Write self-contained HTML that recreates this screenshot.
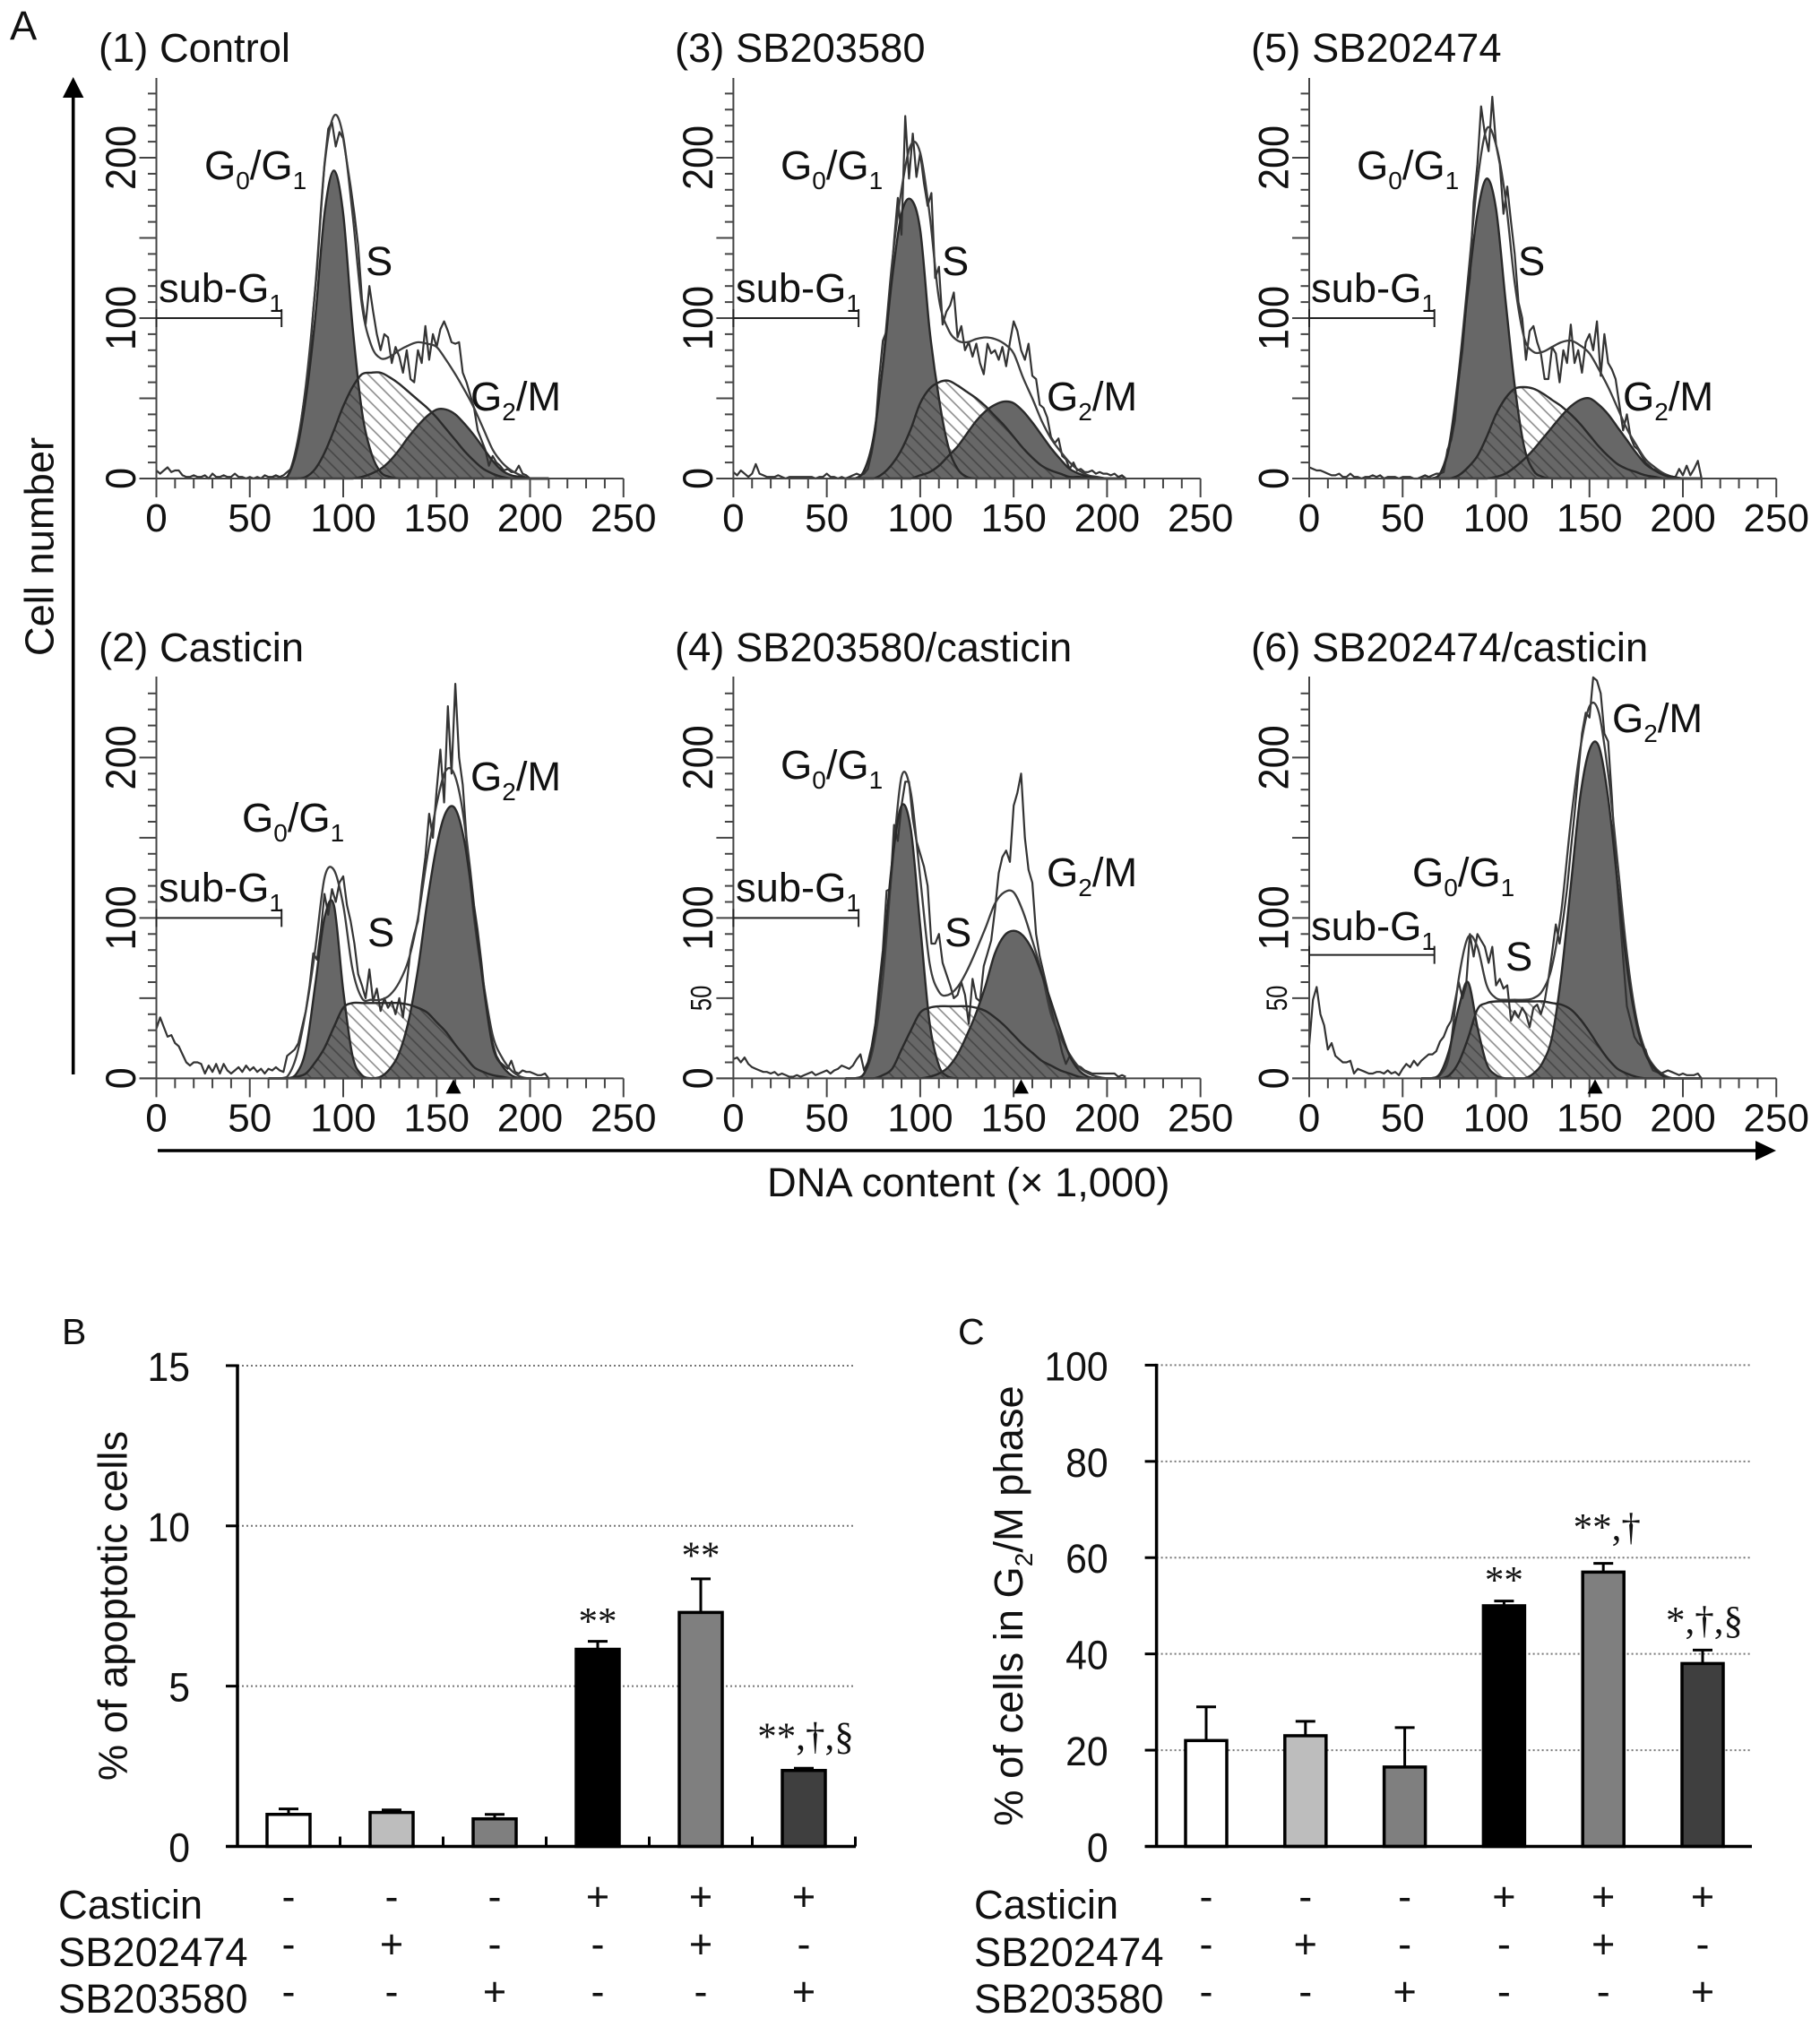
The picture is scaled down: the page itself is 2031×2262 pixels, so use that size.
<!DOCTYPE html>
<html lang="en">
<head>
<meta charset="utf-8">
<title>Cell cycle histograms and apoptosis bar charts</title>
<style>
html,body{margin:0;padding:0;background:#fff;}
svg{display:block;}
text{font-family:"Liberation Sans",sans-serif;fill:#111;}
.lbl{font-size:45.3px;}
.sig{font-family:"Liberation Serif",serif;font-size:43px;text-anchor:middle;}
</style>
</head>
<body>
<svg id="figure" xmlns="http://www.w3.org/2000/svg" width="2031" height="2262" viewBox="0 0 2031 2262">
<defs>
<pattern id="hatch" patternUnits="userSpaceOnUse" width="10" height="10" patternTransform="rotate(45)">
<line x1="0" y1="5" x2="10" y2="5" stroke="#2a2a2a" stroke-opacity="0.55" stroke-width="1.6"/>
</pattern>
</defs>
<rect x="0" y="0" width="2031" height="2262" fill="#fff"/>

<text class="lbl" x="11" y="44">A</text>
<text x="69" y="1500" font-size="41">B</text>
<text x="1069" y="1500" font-size="41">C</text>

<g id="histograms"></g>

<g>
<text class="lbl" x="110" y="69">(1) Control</text>
<text class="lbl" x="753" y="69">(3) SB203580</text>
<text class="lbl" x="1396" y="69">(5) SB202474</text>
<text class="lbl" x="110" y="738">(2) Casticin</text>
<text class="lbl" x="753" y="738">(4) SB203580/casticin</text>
<text class="lbl" x="1396" y="738">(6) SB202474/casticin</text>
</g>

<g>
<text class="lbl" x="228" y="200">G<tspan dy="11" font-size="28">0</tspan><tspan dy="-11">/G</tspan><tspan dy="11" font-size="28">1</tspan></text>
<text class="lbl" x="408" y="307">S</text>
<text class="lbl" x="177" y="337">sub-G<tspan dy="11" font-size="28">1</tspan></text>
<text class="lbl" x="525" y="458">G<tspan dy="11" font-size="28">2</tspan><tspan dy="-11">/M</tspan></text>

<text class="lbl" x="871" y="200">G<tspan dy="11" font-size="28">0</tspan><tspan dy="-11">/G</tspan><tspan dy="11" font-size="28">1</tspan></text>
<text class="lbl" x="1051" y="307">S</text>
<text class="lbl" x="821" y="337">sub-G<tspan dy="11" font-size="28">1</tspan></text>
<text class="lbl" x="1168" y="458">G<tspan dy="11" font-size="28">2</tspan><tspan dy="-11">/M</tspan></text>

<text class="lbl" x="1514" y="200">G<tspan dy="11" font-size="28">0</tspan><tspan dy="-11">/G</tspan><tspan dy="11" font-size="28">1</tspan></text>
<text class="lbl" x="1694" y="307">S</text>
<text class="lbl" x="1463" y="337">sub-G<tspan dy="11" font-size="28">1</tspan></text>
<text class="lbl" x="1811" y="458">G<tspan dy="11" font-size="28">2</tspan><tspan dy="-11">/M</tspan></text>

<text class="lbl" x="270" y="928">G<tspan dy="11" font-size="28">0</tspan><tspan dy="-11">/G</tspan><tspan dy="11" font-size="28">1</tspan></text>
<text class="lbl" x="410" y="1056">S</text>
<text class="lbl" x="177" y="1006">sub-G<tspan dy="11" font-size="28">1</tspan></text>
<text class="lbl" x="525" y="882">G<tspan dy="11" font-size="28">2</tspan><tspan dy="-11">/M</tspan></text>

<text class="lbl" x="871" y="869">G<tspan dy="11" font-size="28">0</tspan><tspan dy="-11">/G</tspan><tspan dy="11" font-size="28">1</tspan></text>
<text class="lbl" x="1054" y="1056">S</text>
<text class="lbl" x="821" y="1006">sub-G<tspan dy="11" font-size="28">1</tspan></text>
<text class="lbl" x="1168" y="989">G<tspan dy="11" font-size="28">2</tspan><tspan dy="-11">/M</tspan></text>

<text class="lbl" x="1576" y="989">G<tspan dy="11" font-size="28">0</tspan><tspan dy="-11">/G</tspan><tspan dy="11" font-size="28">1</tspan></text>
<text class="lbl" x="1680" y="1083">S</text>
<text class="lbl" x="1463" y="1049">sub-G<tspan dy="11" font-size="28">1</tspan></text>
<text class="lbl" x="1799" y="817">G<tspan dy="11" font-size="28">2</tspan><tspan dy="-11">/M</tspan></text>
</g>

<g>
<line x1="81.7" y1="105" x2="81.7" y2="1199" stroke="#000" stroke-width="3.6"/>
<polygon points="81.7,86 70,109 93.4,109" fill="#000"/>
</g>
<text class="lbl" transform="translate(59.7 610) rotate(-90)" text-anchor="middle">Cell number</text>
<g>
<line x1="176" y1="1284" x2="1962" y2="1284" stroke="#000" stroke-width="3.6"/>
<polygon points="1982,1284 1959,1273 1959,1295" fill="#000"/>
</g>
<text class="lbl" x="856" y="1335">DNA content (× 1,000)</text>

<g id="chart-b"></g>
<text class="lbl" transform="translate(141.6 1792) rotate(-90)" text-anchor="middle">% of apoptotic cells</text>

<g id="chart-c"></g>
<text class="lbl" transform="translate(1141 1792) rotate(-90)" text-anchor="middle">% of cells in G<tspan dy="11" font-size="28">2</tspan><tspan dy="-11">/M phase</tspan></text>

<g>
<text class="lbl" x="65" y="2141">Casticin</text>
<text class="lbl" x="65" y="2194">SB202474</text>
<text class="lbl" x="65" y="2246">SB203580</text>
<text class="lbl" x="1087" y="2141">Casticin</text>
<text class="lbl" x="1087" y="2194">SB202474</text>
<text class="lbl" x="1087" y="2246">SB203580</text>
</g>
</svg>

<script>
// ---------- Histogram data ----------
const xTickValues = [0,10,20,30,40,50,60,70,80,90,100,110,120,130,140,150,160,170,180,190,200,210,220,230,240,250];
const xTickLabels = [0,50,100,150,200,250];
const yTickValues = [0,10,20,30,40,50,60,70,80,90,100,110,120,130,140,150,160,170,180,190,200,210,220,230,240];
const yTickLabels = [0,100,200];
const yTickSmallLabels = [50];

// raw histogram bins (DNA content, thousands)
const rawBins = [0,2,4,6,8,10,12,14,16,18,20,22,24,26,28,30,32,34,36,38,40,42,44,46,48,50,52,54,56,58,60,62,64,66,68,70,72,74,76,78,80,82,84,86,88,90,92,94,96,98,100,102,104,106,108,110,112,114,116,118,120,122,124,126,128,130,132,134,136,138,140,142,144,146,148,150,152,154,156,158,160,162,164,166,168,170,172,174,176,178,180,182,184,186,188,190,192,194,196,198,200,202,204,206,208,210];
// model-curve bins; trailing values omitted are zero
const fitBins = [60,65,70,75,80,85,90,95,100,105,110,115,120,125,130,135,140,145,150,155,160,165,170,175,180,185,190,195,200,205,210];

const rawP1 = [5,3,5,7,4,5,5,2,1,1,2,1,1,2,0,3,1,1,2,1,1,3,1,1,0,1,0,1,0,2,1,1,2,1,2,4,6,12,22,40,56,74,105,130,165,196,218,222,207,216,212,197,182,165,145,112,96,120,104,90,80,90,88,72,82,76,66,80,62,60,80,72,95,74,90,82,93,98,92,85,84,85,66,60,52,44,30,24,18,8,14,10,8,5,6,4,4,8,3,2,0,0,0,0,0,0];
const fitP1 = [0,0,1,20,58,118,195,226,213,165,108,83,75,76,80,83,85,84,82,74,65,55,44,31,18,10,5,2];
const g1P1 = [0,0,1,17,50,100,165,192,165,95,42,16,4,1];
const sP1 = [0,0,0,0,1,6,16,30,45,57,65,66,66,63,59,54,49,44,38,31,24,17,11,6,3,1];
const g2P1 = [0,0,0,0,0,0,0,0,0,0,1,3,6,11,18,26,33,39,43,43,40,34,27,19,11,5,2,1];

const rawP2 = [31,38,32,26,27,22,20,15,10,8,10,10,9,3,8,4,9,3,9,5,3,5,7,4,8,5,7,4,6,3,6,5,7,5,4,14,16,18,22,32,42,58,78,74,92,115,102,118,110,122,126,108,98,84,65,58,50,68,48,56,42,50,44,48,40,50,38,59,80,90,98,120,138,165,150,180,205,172,232,190,246,200,183,150,130,108,92,72,50,36,22,14,10,8,6,11,4,3,5,4,4,3,2,2,3,0];
const fitP2 = [0,0,1,14,42,80,125,130,108,68,50,49,49,52,60,74,100,138,171,192,188,158,100,60,27,13,5,1];
const g1P2 = [0,0,0,3,18,58,100,108,55,14,2];
const sP2 = [0,0,0,1,3,10,19,32,44,47,47,47,47,47,47,46,44,41,35,29,21,14,7,4,2,1];
const g2P2 = [0,0,0,0,0,0,0,0,0,0,0,0,1,6,16,36,68,110,145,166,168,147,105,58,20,8,2];

const rawP3 = [4,2,5,3,1,3,9,3,2,1,1,1,2,1,0,1,1,1,1,1,1,1,0,1,1,3,1,1,0,1,0,1,2,3,2,3,6,16,30,62,86,92,118,148,175,152,226,187,215,188,203,184,170,178,125,132,96,104,108,116,88,95,80,85,76,84,72,65,84,78,80,74,82,70,85,98,92,80,74,84,64,62,46,44,38,26,22,25,14,12,6,10,5,6,4,4,5,3,4,3,3,2,3,1,2,0];
const fitP3 = [0,0,5,26,72,135,180,208,203,165,112,93,86,85,87,88,87,84,78,63,50,36,25,17,10,5,2,1];
const g1P3 = [0,0,5,25,70,125,165,174,155,93,50,20,6,1];
const sP3 = [0,0,0,0,3,9,18,31,47,56,60,61,58,54,50,45,39,33,26,19,13,8,5,3,1,1];
const g2P3 = [0,0,0,0,0,0,0,0,2,4,8,14,20,28,36,42,46,48,47,42,35,27,19,12,6,3,1];

const rawP4 = [12,13,10,13,9,7,6,5,4,4,3,4,2,3,2,1,1,2,1,2,3,4,2,3,4,5,3,5,6,8,7,6,8,12,15,5,10,20,34,58,80,117,118,158,148,170,185,185,162,148,140,132,120,84,84,90,72,65,58,50,52,60,52,34,62,50,48,70,78,86,105,128,138,142,135,170,178,190,150,130,122,90,76,66,56,44,34,26,16,9,14,10,8,7,5,4,3,3,3,3,3,3,3,1,2,1];
const fitP4 = [0,0,3,20,62,132,188,178,125,72,54,52,57,67,80,94,109,116,116,104,86,66,40,26,15,7,3,1];
const g1P4 = [0,0,3,25,75,135,170,155,95,35,8,1];
const sP4 = [0,0,0,0,2,6,18,30,41,44,45,45,45,45,44,42,38,33,27,21,16,11,8,5,3,1];
const g2P4 = [0,0,0,0,0,0,0,0,0,1,3,7,15,27,41,58,78,89,92,89,80,65,48,30,14,5,1];

const rawP5 = [7,6,5,5,4,3,2,2,3,1,1,3,1,1,0,1,1,2,1,2,0,1,1,1,0,1,1,1,0,0,1,2,1,2,3,3,4,18,24,36,62,80,108,125,172,196,232,215,204,238,208,196,165,182,160,140,110,100,74,92,95,85,78,62,62,82,78,60,80,72,96,72,80,66,85,90,80,98,64,90,72,68,62,46,30,40,26,20,18,14,10,8,6,5,4,3,2,1,1,6,2,8,2,6,11,0];
const fitP5 = [0,0,3,22,66,125,185,218,208,175,122,88,79,79,82,85,86,83,78,68,57,44,31,21,12,7,3,1];
const g1P5 = [0,0,3,20,62,118,165,187,168,112,58,20,5,1];
const sP5 = [0,0,0,0,2,7,14,26,40,50,56,57,56,53,49,45,40,34,27,20,14,9,6,4,2,1];
const g2P5 = [0,0,0,0,0,0,0,0,1,3,7,12,18,25,32,39,45,49,50,46,40,32,24,16,9,5,2,1];

const rawP6 = [21,49,57,40,33,18,22,14,12,10,10,11,3,6,5,4,3,3,4,4,3,5,3,4,2,6,9,7,11,8,11,13,15,15,17,23,26,32,36,48,60,50,58,90,76,90,86,82,72,82,58,62,56,58,36,42,38,44,40,32,44,46,40,48,62,78,96,84,100,118,142,165,190,215,228,225,250,248,240,215,210,175,135,105,75,45,36,26,22,20,18,10,5,4,3,4,5,4,3,2,3,2,2,2,3,0];
const fitP6 = [0,0,2,15,62,88,82,58,50,49,49,49,50,55,70,105,160,205,232,228,190,135,78,38,17,7,2];
const g1P6 = [0,0,3,18,44,60,32,9,2];
const sP6 = [0,0,0,2,10,25,43,47,48,48,48,48,48,48,47,46,43,37,29,20,12,6,3,1];
const g2P6 = [0,0,0,0,0,0,0,0,0,0,0,0,3,10,26,65,120,175,205,207,175,122,70,35,15,6,1];

// ---------- Bar chart data ----------
const apoptosisTicks = [0,5,10,15];
const apoptosisValues = [1.0,1.06,0.86,6.15,7.3,2.37];
const apoptosisErrors = [1.17,1.14,1.0,6.4,8.35,2.44];
const apoptosisSig = ['','','','**','**','**,†,§'];

const g2mTicks = [0,20,40,60,80,100];
const g2mValues = [22,23,16.5,50,57,38];
const g2mErrors = [29,26,24.7,51,58.8,40.8];
const g2mSig = ['','','','**','**,†','*,†,§'];

const casticinSigns = ['-','-','-','+','+','+'];
const sb202474Signs = ['-','+','-','-','+','-'];
const sb203580Signs = ['-','-','+','-','-','+'];

// ---------- Drawing helpers ----------
const NS = 'http://www.w3.org/2000/svg';
function svgEl(tag, parent, attrs){
  const el = document.createElementNS(NS, tag);
  for (const k in attrs) el.setAttribute(k, attrs[k]);
  parent.appendChild(el);
  return el;
}
function curvePoints(bins, arr, xf, yf){
  return bins.map((b,i)=>[xf(b), yf(i<arr.length?arr[i]:0)]);
}
function splinePath(pts, maxY){
  let d = 'M'+pts[0][0].toFixed(1)+' '+pts[0][1].toFixed(1);
  for (let i=0;i<pts.length-1;i++){
    const p0=pts[Math.max(i-1,0)],p1=pts[i],p2=pts[i+1],p3=pts[Math.min(i+2,pts.length-1)];
    const c1x=p1[0]+(p2[0]-p0[0])/6, c1y=Math.min(maxY,p1[1]+(p2[1]-p0[1])/6);
    const c2x=p2[0]-(p3[0]-p1[0])/6, c2y=Math.min(maxY,p2[1]-(p3[1]-p1[1])/6);
    d+='C'+c1x.toFixed(1)+' '+c1y.toFixed(1)+' '+c2x.toFixed(1)+' '+c2y.toFixed(1)+' '+p2[0].toFixed(1)+' '+p2[1].toFixed(1);
  }
  return d;
}

// ---------- Histogram panels ----------
const panels = [
  {key:'control', x0:174.5, y0:534, top:87, gate:100, marker:null, small:false, raw:rawP1, fit:fitP1, g1:g1P1, s:sP1, g2:g2P1},
  {key:'casticin', x0:174.5, y0:1203.4, top:755, gate:100, marker:159, small:false, raw:rawP2, fit:fitP2, g1:g1P2, s:sP2, g2:g2P2},
  {key:'sb203580', x0:818.4, y0:534, top:87, gate:100, marker:null, small:false, raw:rawP3, fit:fitP3, g1:g1P3, s:sP3, g2:g2P3},
  {key:'sb203580-casticin', x0:818.4, y0:1203.4, top:755, gate:100, marker:154, small:true, raw:rawP4, fit:fitP4, g1:g1P4, s:sP4, g2:g2P4},
  {key:'sb202474', x0:1461, y0:534, top:87, gate:100, marker:null, small:false, raw:rawP5, fit:fitP5, g1:g1P5, s:sP5, g2:g2P5},
  {key:'sb202474-casticin', x0:1461, y0:1203.4, top:755, gate:77, marker:153, small:true, raw:rawP6, fit:fitP6, g1:g1P6, s:sP6, g2:g2P6}
];
const histRoot = document.getElementById('histograms');
const X_UNIT = 2.085, Y_UNIT = 1.79, AXIS_COLOR = '#444';

panels.forEach(function(p){
  const xScale = v => p.x0 + v*X_UNIT;
  const yScale = v => p.y0 - v*Y_UNIT;
  const g = svgEl('g', histRoot, {});
  
  

  // component areas
  [p.g1, p.g2].forEach(function(arr){
    const d = splinePath(curvePoints(fitBins, arr, xScale, yScale), p.y0);
    const area = svgEl('path', g, {d: d+'Z', fill:'#676767', stroke:'none'});
    
    
  });
  const sD = splinePath(curvePoints(fitBins, p.s, xScale, yScale), p.y0);
  const sArea = svgEl('path', g, {d: sD+'Z', fill:'url(#hatch)', stroke:'none'});
  
  

  // raw histogram
  const rawPts = rawBins.map((b,i)=>xScale(b).toFixed(1)+','+yScale(p.raw[i]).toFixed(1)).join(' ');
  const rawLine = svgEl('polyline', g, {points: rawPts, fill:'none', stroke:'#333', 'stroke-width':2.2, 'stroke-linejoin':'round'});
  
  

  // fit line
  const fitLine = svgEl('path', g, {d: splinePath(curvePoints(fitBins, p.fit, xScale, yScale), p.y0), fill:'none', stroke:'#3c3c3c', 'stroke-width':2.3});
  
  

  // component outlines
  [p.g1, p.s, p.g2].forEach(function(arr){
    const outline = svgEl('path', g, {d: splinePath(curvePoints(fitBins, arr, xScale, yScale), p.y0), fill:'none', stroke:'#2a2a2a', 'stroke-width':2.4});
    
    
  });

  // axes
  const xAxis = svgEl('line', g, {x1:xScale(0)-19, y1:p.y0, x2:xScale(250), y2:p.y0, stroke:AXIS_COLOR, 'stroke-width':2});
  
  
  const yAxis = svgEl('line', g, {x1:p.x0, y1:p.top, x2:p.x0, y2:p.y0, stroke:AXIS_COLOR, 'stroke-width':2});
  
  

  xTickValues.forEach(function(v){
    const len = v%50===0 ? 21 : 11;
    const tick = svgEl('line', g, {x1:xScale(v), y1:p.y0, x2:xScale(v), y2:p.y0+len, stroke:AXIS_COLOR, 'stroke-width':2});
    
    
  });
  xTickLabels.forEach(function(v){
    const t = svgEl('text', g, {x:xScale(v), y:p.y0+59, 'text-anchor':'middle', 'font-size':44});
    t.textContent = v;
    
    
  });
  yTickValues.forEach(function(v){
    const len = v%50===0 ? 19 : 9.5;
    const tick = svgEl('line', g, {x1:p.x0-len, y1:yScale(v), x2:p.x0, y2:yScale(v), stroke:AXIS_COLOR, 'stroke-width':2});
    
    
  });
  yTickLabels.forEach(function(v){
    const bx = p.x0-23.5, by = yScale(v);
    const t = svgEl('text', g, {transform:'translate('+bx+' '+by+') rotate(-90) scale(0.92 1)', 'text-anchor':'middle', 'font-size':47});
    t.textContent = v;
    
    
  });
  if (p.small){
    yTickSmallLabels.forEach(function(v){
      const bx = p.x0-25, by = yScale(v);
      const t = svgEl('text', g, {transform:'translate('+bx+' '+by+') rotate(-90) scale(0.8 1)', 'text-anchor':'middle', 'font-size':32});
      t.textContent = v;
      
      
    });
  }

  // sub-G1 gate
  const gy = yScale(p.gate), gx2 = xScale(67);
  const gate = svgEl('path', g, {d:'M'+p.x0+' '+(gy-10)+'V'+(gy+10)+'M'+p.x0+' '+gy+'H'+gx2+'M'+gx2+' '+(gy-10)+'V'+(gy+10), fill:'none', stroke:'#222', 'stroke-width':2});
  
  

  // G2/M peak marker
  if (p.marker !== null){
    const mx = xScale(p.marker);
    const mark = svgEl('polygon', g, {points:mx+','+(p.y0+1)+' '+(mx-8.5)+','+(p.y0+17)+' '+(mx+8.5)+','+(p.y0+17), fill:'#000'});
    
    
  }
});

// ---------- Bar charts ----------
const barFills = ['#ffffff','#bdbdbd','#7f7f7f','#000000','#7f7f7f','#3f3f3f'];

function drawBarChart(rootId, cfg, ticks, values, errors, sigLabels){
  const root = document.getElementById(rootId);
  const yScale = v => cfg.y0 - v*cfg.unit;
  const xCenter = i => cfg.c0 + i*cfg.step;

  ticks.forEach(function(v){
    if (v>0){
      const gl = svgEl('line', root, {x1:cfg.axisX, y1:yScale(v), x2:cfg.xEnd, y2:yScale(v), stroke:'#777', 'stroke-width':2, 'stroke-dasharray':'2 3'});
      
      
    }
    const tick = svgEl('line', root, {x1:cfg.axisX-cfg.tickLen, y1:yScale(v), x2:cfg.axisX, y2:yScale(v), stroke:'#000', 'stroke-width':3});
    
    
    const lx = cfg.labelX, ly = yScale(v)+17;
    const t = svgEl('text', root, {transform:'translate('+lx+' '+ly+') scale(0.95 1)', 'text-anchor':'end', 'font-size':45});
    t.textContent = v;
    
    
  });

  values.forEach(function(v,i){
    const cx = xCenter(i);
    const err = svgEl('path', root, {d:'M'+cx+' '+yScale(v)+'V'+yScale(errors[i])+'M'+(cx-11)+' '+yScale(errors[i])+'H'+(cx+11), stroke:'#000', 'stroke-width':3, fill:'none'});
    
    
    const bar = svgEl('rect', root, {x:cx-cfg.barW/2, y:yScale(v), width:cfg.barW, height:cfg.y0-yScale(v), fill:barFills[i], stroke:'#000', 'stroke-width':3.5});
    
    
    if (sigLabels[i]){
      const s = svgEl('text', root, {class:'sig', x:cx+cfg.sigDx[i], y:yScale(errors[i])-cfg.sigGap[i]});
      s.textContent = sigLabels[i];
      
      
    }
  });

  const xAxis = svgEl('line', root, {x1:cfg.axisX-cfg.tickLen, y1:cfg.y0, x2:cfg.xEnd, y2:cfg.y0, stroke:'#000', 'stroke-width':3.5});
  
  
  const yAxis = svgEl('line', root, {x1:cfg.axisX, y1:yScale(ticks[ticks.length-1])-1.5, x2:cfg.axisX, y2:cfg.y0, stroke:'#000', 'stroke-width':3.5});
  
  

  if (cfg.xTicks){
    values.forEach(function(v,i){
      const tx = xCenter(i)+cfg.step/2;
      const tick = svgEl('line', root, {x1:tx, y1:cfg.y0, x2:tx, y2:cfg.y0-11, stroke:'#000', 'stroke-width':3});
      
      
    });
  }

  [[casticinSigns,2132],[sb202474Signs,2185],[sb203580Signs,2238]].forEach(function(row){
    row[0].forEach(function(sign,i){
      const t = svgEl('text', root, {x:xCenter(i), y:row[1], 'text-anchor':'middle', 'font-size':45});
      t.textContent = sign;
      
      
    });
  });
}

drawBarChart('chart-b', {y0:2060.5, unit:35.77, axisX:265, tickLen:13, xEnd:955, c0:322, step:115, barW:48, labelX:212, xTicks:true,
  sigDx:[0,0,0,0,0,2], sigGap:[0,0,0,8,12,21]},
  apoptosisTicks, apoptosisValues, apoptosisErrors, apoptosisSig);
drawBarChart('chart-c', {y0:2060.5, unit:5.371, axisX:1290.6, tickLen:13, xEnd:1955, c0:1346, step:110.8, barW:46, labelX:1236.7, xTicks:false,
  sigDx:[0,0,0,0,4,2], sigGap:[0,0,0,9,26,19]},
  g2mTicks, g2mValues, g2mErrors, g2mSig);
</script>
</body>
</html>
